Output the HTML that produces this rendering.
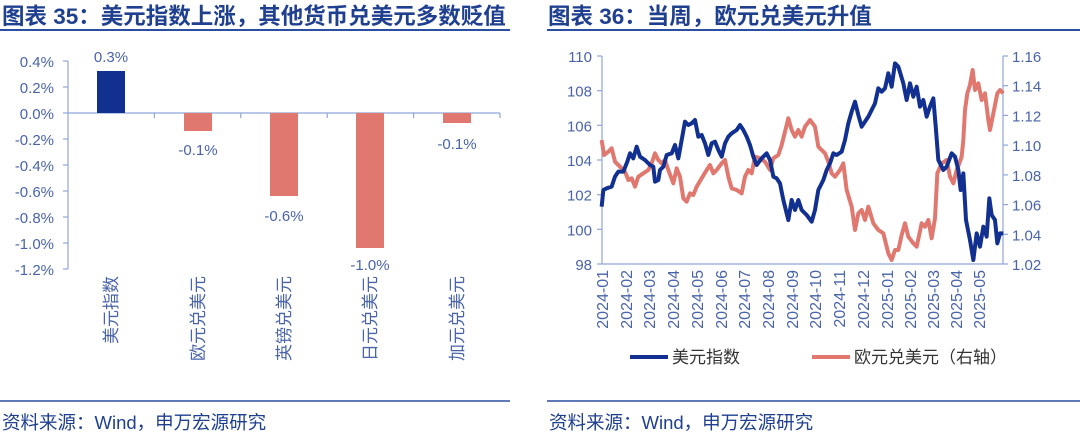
<!DOCTYPE html>
<html><head><meta charset="utf-8"><style>
html,body{margin:0;padding:0;background:#fff;width:1080px;height:438px;overflow:hidden}
svg{display:block;font-family:"Liberation Sans","Noto Sans CJK SC",sans-serif}
</style></head><body>
<svg width="1080" height="438" viewBox="0 0 1080 438">
<text x="2" y="24" font-size="22.5" font-weight="bold" fill="#1f3f8f">图表 35：美元指数上涨，其他货币兑美元多数贬值</text>
<line x1="0" y1="30" x2="510" y2="30" stroke="#2b4fa0" stroke-width="2"/>
<text x="548" y="24" font-size="22.5" font-weight="bold" fill="#1f3f8f">图表 36：当周，欧元兑美元升值</text>
<line x1="547" y1="30" x2="1080" y2="30" stroke="#2b4fa0" stroke-width="2"/>
<line x1="0" y1="401" x2="510" y2="401" stroke="#2b4fa0" stroke-width="1.5"/>
<line x1="547" y1="401" x2="1080" y2="401" stroke="#2b4fa0" stroke-width="1.5"/>
<text x="2" y="429" font-size="18.5" fill="#1f3f8f">资料来源：Wind，申万宏源研究</text>
<text x="549" y="429" font-size="18.5" fill="#1f3f8f">资料来源：Wind，申万宏源研究</text>

<g font-size="15" fill="#4a64a8">
<line x1="68" y1="61" x2="68" y2="269" stroke="#8fa6d8" stroke-width="1.2"/>
<g stroke="#8fa6d8" stroke-width="1.2">
<line x1="63" y1="61" x2="68" y2="61"/><line x1="63" y1="87" x2="68" y2="87"/><line x1="63" y1="113" x2="68" y2="113"/><line x1="63" y1="139" x2="68" y2="139"/><line x1="63" y1="165" x2="68" y2="165"/><line x1="63" y1="191" x2="68" y2="191"/><line x1="63" y1="217" x2="68" y2="217"/><line x1="63" y1="243" x2="68" y2="243"/><line x1="63" y1="269" x2="68" y2="269"/>
<line x1="68" y1="113" x2="500" y2="113"/>
<line x1="154.4" y1="113" x2="154.4" y2="118"/><line x1="240.8" y1="113" x2="240.8" y2="118"/><line x1="327.2" y1="113" x2="327.2" y2="118"/><line x1="413.6" y1="113" x2="413.6" y2="118"/><line x1="500" y1="113" x2="500" y2="118"/>
</g>
<g text-anchor="end">
<text x="54" y="67">0.4%</text><text x="54" y="93">0.2%</text><text x="54" y="119">0.0%</text><text x="54" y="145">-0.2%</text><text x="54" y="171">-0.4%</text><text x="54" y="197">-0.6%</text><text x="54" y="223">-0.8%</text><text x="54" y="249">-1.0%</text><text x="54" y="275">-1.2%</text>
</g>
<rect x="97" y="71" width="28" height="42" fill="#12308f"/>
<rect x="184" y="113" width="28" height="18" fill="#e07870"/>
<rect x="270" y="113" width="28" height="83" fill="#e07870"/>
<rect x="356" y="113" width="28" height="135" fill="#e07870"/>
<rect x="443" y="113" width="28" height="10" fill="#e07870"/>
<g text-anchor="middle">
<text x="111" y="62">0.3%</text><text x="198" y="155">-0.1%</text><text x="284" y="221">-0.6%</text><text x="370" y="270">-1.0%</text><text x="457" y="149">-0.1%</text>
</g>
<g text-anchor="end" font-size="17">
<text transform="translate(117,276) rotate(-90)">美元指数</text>
<text transform="translate(204,276) rotate(-90)">欧元兑美元</text>
<text transform="translate(290,276) rotate(-90)">英镑兑美元</text>
<text transform="translate(376,276) rotate(-90)">日元兑美元</text>
<text transform="translate(463,276) rotate(-90)">加元兑美元</text>
</g>
</g>

<g font-size="15" fill="#4a64a8">
<g stroke="#8fa6d8" stroke-width="1.2">
<line x1="602" y1="56" x2="602" y2="264"/>
<line x1="1003" y1="56" x2="1003" y2="264"/>
<line x1="602" y1="264" x2="1003" y2="264"/>
<line x1="597" y1="56" x2="602" y2="56"/><line x1="597" y1="90.7" x2="602" y2="90.7"/><line x1="597" y1="125.3" x2="602" y2="125.3"/><line x1="597" y1="160" x2="602" y2="160"/><line x1="597" y1="194.7" x2="602" y2="194.7"/><line x1="597" y1="229.3" x2="602" y2="229.3"/><line x1="597" y1="264" x2="602" y2="264"/>
<line x1="1003" y1="56" x2="1008" y2="56"/><line x1="1003" y1="85.7" x2="1008" y2="85.7"/><line x1="1003" y1="115.4" x2="1008" y2="115.4"/><line x1="1003" y1="145.1" x2="1008" y2="145.1"/><line x1="1003" y1="174.9" x2="1008" y2="174.9"/><line x1="1003" y1="204.6" x2="1008" y2="204.6"/><line x1="1003" y1="234.3" x2="1008" y2="234.3"/><line x1="1003" y1="264" x2="1008" y2="264"/>
</g>
<g text-anchor="end">
<text x="592" y="62">110</text><text x="592" y="96.7">108</text><text x="592" y="131.3">106</text><text x="592" y="166">104</text><text x="592" y="200.7">102</text><text x="592" y="235.3">100</text><text x="592" y="270">98</text>
</g>
<g>
<text x="1012" y="62">1.16</text><text x="1012" y="91.7">1.14</text><text x="1012" y="121.4">1.12</text><text x="1012" y="151.1">1.10</text><text x="1012" y="180.9">1.08</text><text x="1012" y="210.6">1.06</text><text x="1012" y="240.3">1.04</text><text x="1012" y="270">1.02</text>
</g>
<g text-anchor="end" font-size="16">
<text transform="translate(608,270) rotate(-90)">2024-01</text>
<text transform="translate(632,270) rotate(-90)">2024-02</text>
<text transform="translate(655,270) rotate(-90)">2024-03</text>
<text transform="translate(679,270) rotate(-90)">2024-04</text>
<text transform="translate(703,270) rotate(-90)">2024-05</text>
<text transform="translate(727,270) rotate(-90)">2024-06</text>
<text transform="translate(750,270) rotate(-90)">2024-07</text>
<text transform="translate(774,270) rotate(-90)">2024-08</text>
<text transform="translate(798,270) rotate(-90)">2024-09</text>
<text transform="translate(821,270) rotate(-90)">2024-10</text>
<text transform="translate(845,270) rotate(-90)">2024-11</text>
<text transform="translate(869,270) rotate(-90)">2024-12</text>
<text transform="translate(893,270) rotate(-90)">2025-01</text>
<text transform="translate(916,270) rotate(-90)">2025-02</text>
<text transform="translate(939,270) rotate(-90)">2025-03</text>
<text transform="translate(962,270) rotate(-90)">2025-04</text>
<text transform="translate(985,270) rotate(-90)">2025-05</text>
</g>
<g transform="translate(540,30) scale(0.33333)" fill="none" stroke-width="12" stroke-linejoin="round">
<polyline stroke="#e07870" points="185,330 192,375 205,365 215,355 225,395 240,410 255,425 265,450 275,445 285,470 295,440 310,430 325,420 335,400 345,370 355,390 365,400 375,390 385,420 400,460 410,415 420,440 430,505 440,515 450,490 460,495 470,470 485,445 500,420 510,405 520,430 530,420 545,400 555,390 565,440 575,475 590,480 605,490 615,440 625,420 635,430 645,380 660,385 675,395 690,420 700,385 715,375 725,345 735,305 745,265 755,300 765,320 775,300 785,320 795,290 810,270 825,290 835,350 845,360 855,370 865,395 875,430 885,440 900,420 910,400 920,480 935,530 945,600 955,550 965,540 975,570 985,530 1000,580 1015,600 1030,610 1045,670 1055,690 1065,660 1075,660 1085,615 1095,580 1105,620 1120,640 1130,650 1145,580 1155,590 1165,570 1175,625 1185,565 1192,430 1205,400 1220,390 1230,440 1240,460 1250,420 1258,400 1265,380 1270,330 1275,240 1282,190 1290,165 1298,120 1305,180 1315,160 1325,210 1335,190 1345,270 1350,300 1360,250 1372,190 1380,180 1390,190"/>
<polyline stroke="#12308f" points="185,530 190,480 200,475 215,470 225,440 235,425 250,425 262,395 270,370 280,385 290,350 300,380 315,390 330,405 340,410 345,455 355,450 360,420 370,410 380,375 395,370 405,345 415,385 425,330 435,275 445,285 455,280 465,270 475,320 485,315 495,340 505,375 515,340 525,335 535,360 545,380 555,340 565,320 575,310 590,300 600,285 610,300 620,320 630,345 640,380 650,405 665,385 680,370 690,390 700,440 710,445 720,460 730,510 745,570 755,510 765,540 775,510 785,540 800,555 815,575 825,540 835,480 850,450 860,420 870,400 880,370 890,375 905,365 915,330 925,280 935,245 945,215 955,255 965,290 975,275 985,260 995,240 1005,220 1015,175 1025,185 1035,175 1045,130 1055,170 1065,100 1075,110 1090,160 1100,210 1110,160 1120,200 1130,170 1140,230 1150,210 1160,260 1170,230 1180,205 1188,300 1195,390 1210,420 1220,410 1235,370 1245,380 1255,420 1262,480 1270,430 1278,570 1290,630 1300,690 1310,610 1320,650 1330,590 1340,620 1348,505 1355,555 1365,570 1372,640 1380,610 1390,610"/>
</g>
<line x1="630" y1="357" x2="668" y2="357" stroke="#12308f" stroke-width="4"/>
<text x="672" y="363" fill="#333" font-size="17">美元指数</text>
<line x1="812" y1="357" x2="850" y2="357" stroke="#e07870" stroke-width="4"/>
<text x="854" y="363" fill="#333" font-size="17">欧元兑美元（右轴）</text>
</g>
</svg>
</body></html>
